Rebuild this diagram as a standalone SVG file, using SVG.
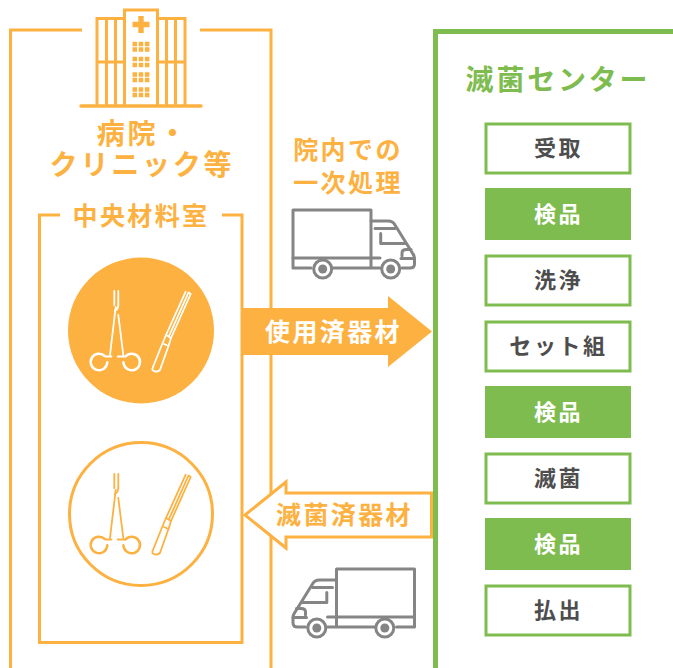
<svg xmlns="http://www.w3.org/2000/svg" xmlns:xlink="http://www.w3.org/1999/xlink" width="673" height="668" viewBox="0 0 673 668">
<style>
text{font-family:"Noto Sans CJK JP","Noto Sans",sans-serif;font-weight:700;text-anchor:middle}
.o{fill:#fdb140}.w{fill:#fff}.k{fill:#4d4d4d}.g{fill:#7fbc50}
.ln{fill:none;stroke:#fdb140;stroke-width:3}
.box{fill:#fff;stroke:#7fbc50;stroke-width:3}
.boxf{fill:#7fbc50}
.t22{font-size:22px;letter-spacing:2.600px}
.t25{font-size:25px;letter-spacing:2.400px}
.t28{font-size:28px;letter-spacing:2.800px}
.tool{fill:none;stroke:currentColor;stroke-width:1.800;stroke-linecap:round;stroke-linejoin:round}
.truck{fill:none;stroke:#858585;stroke-width:3;stroke-linejoin:round;stroke-linecap:round}
</style>
<defs>
<g id="tools" class="tool">
<path d="M114.300 291V305M118.300 291V305"/>
<path d="M118.300 305Q118.300 309 114.800 311"/>
<path d="M115.700 307L110 355M118.300 315L123.300 355"/>
<path d="M105.700 356.500H111.500M117.700 356.500H124.300"/>
<path d="M104.800 356A8.300 8.300 0 1 0 107.300 362.300" stroke-width="2.500"/>
<path d="M125.500 356.500A8.300 8.300 0 1 1 123.400 362.300" stroke-width="2.500"/>
<path d="M185.700 291.700L166 335L161 347L153 367Q151 371 155.500 371.500Q160 372 161 367L168.500 346L171 338L190.700 294L188.500 292.500L169 336"/>
<path d="M166 335L171 338M164 344L168.500 346"/>
</g>
<g id="truck" class="truck">
<path d="M371 258H293V210H371V258"/>
<path d="M293 258V268H311M333 268H380M371 258V268"/>
<path d="M371 258H380"/>
<path d="M371 221H388Q393 221 395 225L413 254Q414.500 256 414.500 259V264Q414.500 268 410 268H402"/>
<path d="M375 228.500H395M380.700 233.500V243.500H406"/>
<path d="M402 256V253Q402 249.500 406.500 249.500H411"/>
<path d="M401 258.500H414.500"/>
<circle cx="322.700" cy="269" r="9"/>
<circle cx="322.700" cy="269" r="4.500" fill="#858585" stroke="none"/>
<circle cx="390.700" cy="269" r="9"/>
<circle cx="390.700" cy="269" r="4.500" fill="#858585" stroke="none"/>
</g>
</defs>
<rect width="673" height="668" fill="#fff"/>

<g id="hospital-frame">
<path class="ln" d="M82 30H10.500V668M200 30H271V668"/>
</g>
<g id="hospital-icon">
<path class="ln" d="M124.500 106V10H157.500V106M124.500 18.500H97V106M157.500 18.500H185V106M106.500 18.500V106M115.500 18.500V106M166.500 18.500V106M175.500 18.500V106M97 62H124.500M157.500 62H185"/>
<path d="M81 106H201" fill="none" stroke="#fdb140" stroke-width="3.500" stroke-linecap="round"/>
<path class="o" d="M138.300 16H143.700V21.800H149.500V27.200H143.700V33H138.300V27.200H132.500V21.800H138.300Z"/>
<path fill="none" stroke="#fdb140" stroke-width="4.300" stroke-dasharray="4.500 1.700" d="M132.500 44H150M132.500 49.500H150M132.500 59H150M132.500 65H150M132.500 74.500H150M132.500 80H150M132.500 89.500H150M132.500 95H150"/>
</g>
<g id="hospital-label">
<text class="o t28" x="143" y="144">病院・</text>
<text class="o t28" x="142" y="175">クリニック等</text>
</g>
<g id="central-room">
<path class="ln" d="M60 215H39.500V642.500H242V215H222"/>
<text class="o t25" x="141" y="225">中央材料室</text>
</g>
<g id="used-tools">
<circle cx="141" cy="330.500" r="73" class="o"/>
<use href="#tools" color="#fff"/>
</g>
<g id="clean-tools">
<circle cx="141" cy="514" r="71.500" class="ln"/>
<use href="#tools" y="183" color="#fdb140"/>
</g>
<g id="truck-in">
<use href="#truck"/>
</g>
<g id="truck-out">
<use href="#truck" transform="translate(707.500 359) scale(-1 1)"/>
</g>
<g id="transport-label">
<text class="o t25" x="348" y="159">院内での</text>
<text class="o t25" x="348" y="192">一次処理</text>
</g>
<g id="connectors">
<path class="o" d="M243 308H388V296L432 331.500L388 367V355H243Z"/>
<text class="w t25" x="333.500" y="341">使用済器材</text>
<path fill="#fff" stroke="#fdb140" stroke-width="3" d="M431.500 493H286V482L245 515L286 548V537H431.500Z"/>
<text class="o t25" x="344.500" y="524">滅菌済器材</text>
</g>
<g id="center-frame">
<path fill="none" stroke="#7fbc50" stroke-width="5" d="M673 31.500H435.500V668"/>
<text class="g t28" x="558" y="90">滅菌センター</text>
</g>
<g id="step-1"><rect class="box" x="486" y="124" width="144" height="49"/><text class="k t22" x="558.500" y="156">受取</text></g>
<g id="step-2"><rect class="boxf" x="485" y="188" width="146" height="52"/><text class="w t22" x="558.500" y="222">検品</text></g>
<g id="step-3"><rect class="box" x="486" y="256" width="144" height="49"/><text class="k t22" x="558.500" y="288">洗浄</text></g>
<g id="step-4"><rect class="box" x="486" y="322" width="144" height="49"/><text class="k t22" x="558.500" y="354">セット組</text></g>
<g id="step-5"><rect class="boxf" x="485" y="386" width="146" height="52"/><text class="w t22" x="558.500" y="420">検品</text></g>
<g id="step-6"><rect class="box" x="486" y="454" width="144" height="49"/><text class="k t22" x="558.500" y="486">滅菌</text></g>
<g id="step-7"><rect class="boxf" x="485" y="518" width="146" height="52"/><text class="w t22" x="558.500" y="552">検品</text></g>
<g id="step-8"><rect class="box" x="486" y="586" width="144" height="49"/><text class="k t22" x="558.500" y="618">払出</text></g>
</svg>
